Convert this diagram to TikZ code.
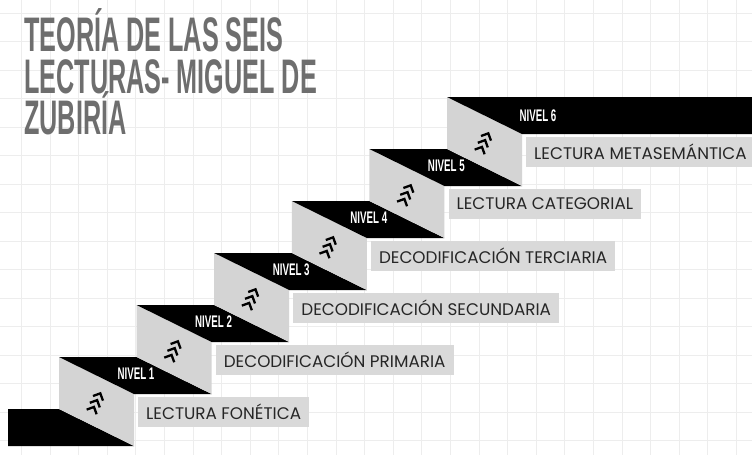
\documentclass[tikz,border=0pt]{standalone}
\usepackage{fontspec}
\setmainfont{Poppins}
\newfontfamily\condfont[FakeStretch=0.58]{Liberation Sans}
\newfontfamily\headfont[FakeStretch=0.52]{Liberation Sans}
\usepackage{tikz}
\setlength{\lineskiplimit}{-100pt}

\definecolor{titlegray}{HTML}{6E6E6E}
\definecolor{facegray}{HTML}{D4D4D4}
\definecolor{boxgray}{HTML}{D9D9D9}
\definecolor{textdark}{HTML}{262626}
\definecolor{gridgray}{HTML}{EDEDED}

\tikzset{
  gridline/.style={draw=gridgray,line width=0.6pt},
  facepart/.style={fill=facegray},
  toppart/.style={fill=black},
  nivellabel/.style={text=white,font=\condfont\bfseries\fontsize{16.8}{18}\selectfont,inner sep=0pt},
  lecturabox/.style={fill=boxgray,text=textdark,font=\fontsize{16.8}{18}\selectfont,
    anchor=west,minimum height=30pt,inner xsep=8pt,inner ysep=0pt},
  chevron/.style={draw=black,line width=2.3pt,line join=miter},
  titleblock/.style={text=titlegray,align=left,
    font=\headfont\bfseries\fontsize{48.5}{41.5}\selectfont,
    anchor=south west,inner sep=0pt,text depth=0pt}
}

\begin{document}
\begin{tikzpicture}[x=1pt,y=-1pt]
  \useasboundingbox (0,0) rectangle (752,455);
  \fill[white] (0,0) rectangle (752,455);

  % grid
  \foreach \gx in {0,...,26}
    \draw[gridline] (21.2+28.6*\gx,0) -- ++(0,455);
  \foreach \gy in {0,...,15}
    \draw[gridline] (0,13+28.5*\gy) -- ++(752,0);

  % title
  \node[titleblock] (title) at (24,135) {TEORÍA DE LAS SEIS\\LECTURAS- MIGUEL DE\\ZUBIRÍA};

  % floor
  \fill[toppart] (8,409) -- (59,409) -- (134,446) -- (8,446) -- cycle;

  % steps
  \foreach \i/\txt/\nx/\ny in {1/LECTURA FONÉTICA/77/17,
                               2/DECODIFICACIÓN PRIMARIA/77/17,
                               3/DECODIFICACIÓN SECUNDARIA/77/17,
                               4/DECODIFICACIÓN TERCIARIA/77/17,
                               5/LECTURA CATEGORIAL/77/17,
                               6/LECTURA METASEMÁNTICA/91/19}{
    \pgfmathsetmacro\L{59+77.6*(\i-1)}
    \pgfmathsetmacro\T{357-52*(\i-1)}
    \fill[facepart] (\L,\T) -- ++(75,37) -- ++(0,52) -- ++(-75,-37) -- cycle;
    \ifnum\i<6
      \fill[toppart] (\L,\T) -- ++(77.6,0) -- ++(75,37) -- ++(-77.6,0) -- cycle;
    \else
      \fill[toppart] (\L,\T) -- (752,\T) -- (752,\T+37) -- (\L+75,\T+37) -- cycle;
    \fi
    \node[nivellabel] (lvl\i) at (\L+\nx,\T+\ny) {NIVEL \i};
    % chevrons
    \begin{scope}[shift={(\L+37.5,\T+44.5)},rotate=-25]
      \foreach \c in {-7.5,0,7.5}
        \draw[chevron] (-5.5,\c+4) -- (0,\c-1.5) -- (5.5,\c+4);
    \end{scope}
    \node[lecturabox] (lec\i) at (\L+79,\T+55) {\txt};
  }
\end{tikzpicture}
\end{document}
